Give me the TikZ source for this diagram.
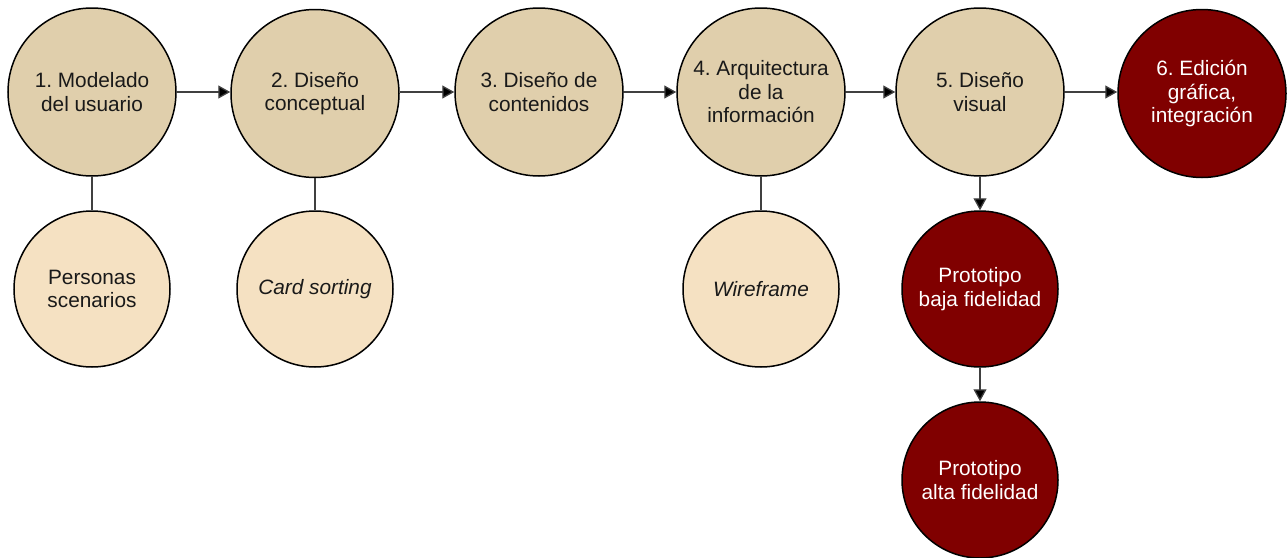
\documentclass[tikz,border=0pt]{standalone}
\usepackage{fontspec}
\setmainfont{Liberation Sans}
\usetikzlibrary{arrows.meta}
\definecolor{topfill}{HTML}{E0CFAC}
\definecolor{subfill}{HTML}{F5E1C2}
\definecolor{darkred}{HTML}{800000}
\frenchspacing
\begin{document}
\begin{tikzpicture}[x=1pt,y=-1pt,
  font=\fontsize{20.8}{23.5}\selectfont,
  bigc/.style={circle,draw=black,line width=1.5pt,fill=topfill,minimum size=168pt,inner sep=0pt,align=center,text=black!90},
  smallc/.style={circle,draw=black,line width=1.5pt,fill=subfill,minimum size=156pt,inner sep=0pt,align=center,text=black!90},
  redbig/.style={bigc,fill=darkred,text=white},
  redsmall/.style={smallc,fill=darkred,text=white},
  arr/.style={line width=1.3pt,draw=black!75,-{Triangle[length=12pt,width=13pt,fill=black]}},
  link/.style={line width=1.3pt,draw=black!75}]
\useasboundingbox (0,0) rectangle (1288,557);
\node[bigc] (c1) at (92,92) {1. Modelado\\del usuario};
\node[bigc] (c2) at (315,93.5) {2. Diseño\\conceptual};
\node[bigc] (c3) at (539,92) {3. Diseño de\\contenidos};
\node[bigc] (c4) at (761,92) {4. Arquitectura\\de la\\información};
\node[bigc] (c5) at (980,92) {5. Diseño\\visual};
\node[redbig] (c6) at (1202,93.5) {6. Edición\\gráfica,\\integración};
\node[smallc] (s1) at (92,289) {Personas\\scenarios};
\node[smallc] (s2) at (315,289) {\itshape Card sorting};
\node[smallc] (s4) at (761,289) {\itshape Wireframe};
\node[redsmall] (p1) at (980,289) {Prototipo\\baja fidelidad};
\node[redsmall] (p2) at (980,480) {Prototipo\\alta fidelidad};
\draw[arr] (c1.east) -- (c2.west |- c1.east);
\draw[arr] (c2.east |- c1.east) -- (c3.west);
\draw[arr] (c3) -- (c4);
\draw[arr] (c4) -- (c5);
\draw[arr] (c5.east) -- (c6.west |- c5.east);
\draw[link] (c1) -- (s1);
\draw[link] (c2) -- (s2);
\draw[link] (c4) -- (s4);
\draw[arr] (c5) -- (p1);
\draw[arr] (p1) -- (p2);
\end{tikzpicture}
\end{document}
